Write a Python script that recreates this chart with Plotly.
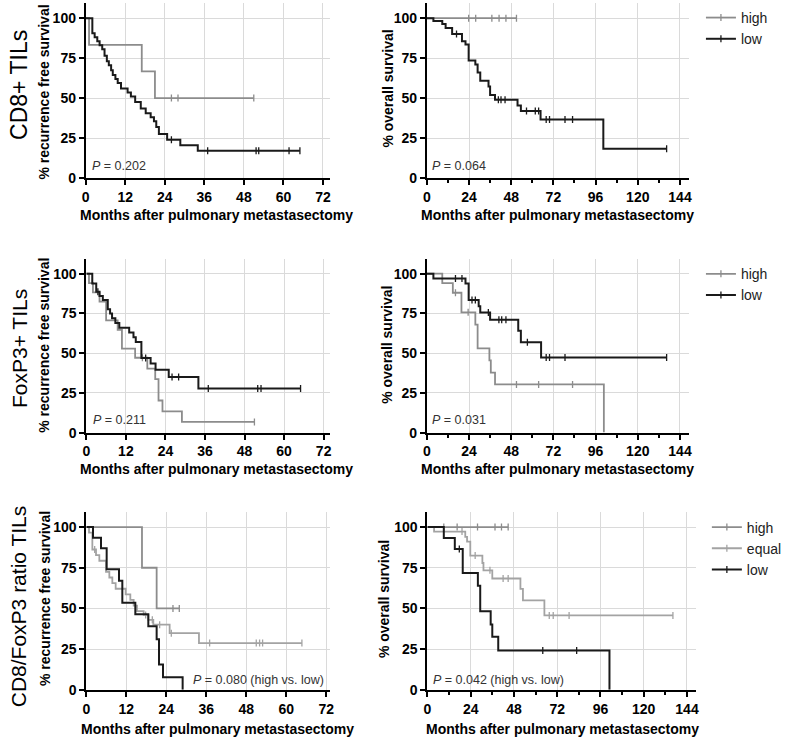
import plotly.graph_objects as go

W, H = 787, 745
FONT = "Liberation Sans, Arial, sans-serif"
BLACK = "#1a1a1a"
GRAY = "#8c8c8c"
LGRAY = "#a3a3a3"

# ---------------- data (months, % surviving) ----------------
# Panel 1: CD8+ TILs, recurrence free survival
p1_high_t = [1, 17, 21]
p1_high_s = [83.3, 66.7, 50.0]
p1_high_c = [26, 28, 51]
p1_low_t = [2, 2.7, 3.5, 4.2, 5, 5.7, 6.4, 7, 7.7, 8.2, 9, 9.7, 10.7, 12.7, 13.7, 15,
            16.7, 18.2, 19.7, 20.7, 21.4, 22.2, 24.7, 28.7, 34]
p1_low_s = [90.5, 88, 85.5, 83, 80.5, 76.5, 73, 70.5, 67.5, 64.5, 62, 59.5, 56, 53.5, 51, 47.5,
            43.5, 40.5, 38, 35.5, 32, 27.5, 24, 20.5, 17.1]
p1_low_c = [26, 37, 51.7, 52.5, 61.7, 65]

# Panel 2: CD8+ TILs, overall survival
p2_high_t = []
p2_high_s = []
p2_high_c = [23.8, 27.8, 37, 41.1, 45, 51]
p2_low_t = [3.75, 8.8, 10.7, 14.4, 20, 22, 23.8, 27.6, 28.9, 30.4, 35.1, 36, 38.8, 51.6, 53.5, 64.7, 100.4]
p2_low_s = [98.2, 96.4, 93.8, 90.1, 85.6, 83.5, 73.5, 71, 66, 60.8, 57.3, 52, 49, 45.4, 41.9, 36.7, 18.3]
p2_low_c = [16.9, 40.7, 42.2, 44.5, 56.7, 61.7, 63.6, 67.9, 69.8, 78.6, 82.9, 136.4]

# Panel 3: FoxP3+ TILs, recurrence free survival
p3_high_t = [0.8, 2, 4, 6, 9.5, 10.8, 14.8, 18.5, 20.9, 21.9, 23.1, 29]
p3_high_s = [94.1, 88.2, 82.4, 70.6, 64.7, 52.9, 47.1, 40.3, 33.6, 20.2, 13.4, 6.7]
p3_high_c = [17, 51]
p3_low_t = [1.8, 3, 4, 5, 6.5, 7.2, 7.8, 8.8, 10, 13, 14.3, 15, 16.7, 19.5, 21, 25, 34]
p3_low_s = [93.8, 88.6, 86, 83.5, 77.6, 75, 72, 69, 66, 63, 60, 57, 47, 43.5, 39.5, 35, 27.8]
p3_low_c = [3.5, 18, 26, 28, 37, 52, 53, 65]

# Panel 4: FoxP3+ TILs, overall survival
p4_high_t = [8.8, 14.8, 19.7, 27.6, 28.9, 35.6, 36.4, 38.8, 100.7]
p4_high_s = [94, 88, 75.7, 68, 53, 45.4, 37.8, 30.3, 0]
p4_high_c = [16.3, 23.5, 51, 63.6, 82.9]
p4_low_t = [3.75, 22, 23.8, 29.5, 30.4, 36, 52, 53.5, 65]
p4_low_s = [96.9, 93.8, 83.4, 79.5, 75.5, 71, 64.1, 56.8, 47.3]
p4_low_c = [16.3, 20, 25.7, 27.6, 35, 41, 42.6, 45, 57.2, 67.9, 69.8, 78.6, 136.4]

# Panel 5: CD8/FoxP3 ratio TILs, recurrence free survival
p5_high_t = [16.7, 21.1]
p5_high_s = [75, 50]
p5_high_c = [26, 27.9]
p5_equal_t = [0.8, 1.8, 2.9, 3.9, 5.9, 6.9, 7.8, 8.8, 11.8, 13.2, 14.2, 15.2, 17.2, 18.6, 20.1, 25, 33.8]
p5_equal_s = [96.6, 86.2, 82.8, 79.3, 72.4, 69, 65.5, 62.1, 58.6, 55.2, 51.7, 48.3, 46, 43, 40, 34.8, 28.7]
p5_equal_c = [2.5, 17.8, 19.8, 22, 25.5, 37, 51, 52, 52.9, 64.7]
p5_low_t = [2, 4.4, 6.1, 9.8, 10.8, 14.7, 18.6, 21.1, 21.8, 23, 28.9]
p5_low_s = [93.5, 87, 74, 67, 53.5, 46.5, 39, 31, 15.5, 7.7, 0]
p5_low_c = []

# Panel 6: CD8/FoxP3 ratio TILs, overall survival
p6_high_t = []
p6_high_s = []
p6_high_c = [9.1, 16.5, 27.8, 37.5, 41.1, 44.8]
p6_equal_t = [3.7, 21, 22, 23.8, 30.5, 31.1, 36, 51.6, 53, 64.9]
p6_equal_s = [97.2, 94, 91, 82.5, 77.9, 73.4, 68.4, 62, 54.9, 45.7]
p6_equal_c = [19.2, 26.5, 34.7, 42, 44.8, 67.6, 69.8, 78.6, 136.2]
p6_low_t = [9.1, 15.2, 19.6, 28, 29.3, 35.1, 36, 39.3, 101]
p6_low_s = [93.2, 86.5, 71.8, 64, 48.3, 40.2, 32.6, 24.1, 0]
p6_low_c = [17.7, 64, 82.8]

row_labels = ["CD8+ TILs", "FoxP3+ TILs", "CD8/FoxP3 ratio TILs"]
p_values = ["0.202", "0.064", "0.211", "0.031", "0.080 (high vs. low)", "0.042 (high vs. low)"]
x_ticks_rfs = [0, 12, 24, 36, 48, 60, 72]
x_ticks_os = [0, 24, 48, 72, 96, 120, 144]
y_ticks = [0, 25, 50, 75, 100]

# ---------------- helpers ----------------
def surv_at(times, surv, t):
    v = 100.0
    for ti, si in zip(times, surv):
        if ti <= t:
            v = si
    return v


def step_xy(times, surv, cens):
    xs = [0] + list(times)
    ys = [100] + list(surv)
    end = max([0] + list(times) + list(cens))
    if end > xs[-1]:
        xs.append(end)
        ys.append(ys[-1])
    return xs, ys


fig = go.Figure()
CENS_SIZE = 5

def add_curve(n, times, surv, cens, color, width):
    xa = "x" if n == 1 else f"x{n}"
    ya = "y" if n == 1 else f"y{n}"
    xs, ys = step_xy(times, surv, cens)
    fig.add_trace(go.Scatter(x=xs, y=ys, mode="lines", line=dict(color=color, width=width, shape="hv"),
                             xaxis=xa, yaxis=ya, showlegend=False, hoverinfo="skip"))
    if cens:
        fig.add_trace(go.Scatter(x=cens, y=[surv_at(times, surv, c) for c in cens], mode="markers",
                                 marker=dict(symbol="line-ns", size=CENS_SIZE, line=dict(color=color, width=1.3)),
                                 xaxis=xa, yaxis=ya, showlegend=False, hoverinfo="skip"))

add_curve(1, p1_high_t, p1_high_s, p1_high_c, GRAY, 1.8)
add_curve(1, p1_low_t, p1_low_s, p1_low_c, BLACK, 2)
add_curve(2, p2_high_t, p2_high_s, p2_high_c, GRAY, 1.8)
add_curve(2, p2_low_t, p2_low_s, p2_low_c, BLACK, 2)
add_curve(3, p3_high_t, p3_high_s, p3_high_c, GRAY, 1.8)
add_curve(3, p3_low_t, p3_low_s, p3_low_c, BLACK, 2)
add_curve(4, p4_high_t, p4_high_s, p4_high_c, GRAY, 1.8)
add_curve(4, p4_low_t, p4_low_s, p4_low_c, BLACK, 2)
add_curve(5, p5_high_t, p5_high_s, p5_high_c, GRAY, 1.8)
add_curve(5, p5_equal_t, p5_equal_s, p5_equal_c, LGRAY, 1.8)
add_curve(5, p5_low_t, p5_low_s, p5_low_c, BLACK, 2)
add_curve(6, p6_high_t, p6_high_s, p6_high_c, GRAY, 1.8)
add_curve(6, p6_equal_t, p6_equal_s, p6_equal_c, LGRAY, 1.8)
add_curve(6, p6_low_t, p6_low_s, p6_low_c, BLACK, 2)

# legend entries
def legend_entry(name, color, width, legend):
    fig.add_trace(go.Scatter(x=[None], y=[None], mode="lines+markers", name=name,
                             line=dict(color=color, width=width),
                             marker=dict(symbol="line-ns", size=CENS_SIZE, line=dict(color=color, width=1.3)),
                             legend=legend))

legend_entry("high", GRAY, 1.8, "legend")
legend_entry("low", BLACK, 2, "legend")
legend_entry("high", GRAY, 1.8, "legend2")
legend_entry("low", BLACK, 2, "legend2")
legend_entry("high", GRAY, 1.8, "legend3")
legend_entry("equal", LGRAY, 1.8, "legend3")
legend_entry("low", BLACK, 2, "legend3")

# ---------------- layout ----------------
def px_x(p):
    return p / W

def px_y(p):
    return 1 - p / H

panels = {
    1: dict(x=(82.7, 330), y=(3, 180), xr=74.2, yr=109.5, os=False),
    2: dict(x=(427.7, 692.7), y=(3, 180), xr=149, yr=109.5, os=True),
    3: dict(x=(83.3, 330), y=(261.7, 437.3), xr=74.0, yr=109.3, os=False),
    4: dict(x=(427.7, 692.7), y=(261.7, 437.3), xr=149, yr=109.3, os=True),
    5: dict(x=(83.3, 330), y=(517.3, 697.3), xr=73.2, yr=109.4, os=False),
    6: dict(x=(428.3, 700), y=(517.3, 697.3), xr=149, yr=109.4, os=True),
}

tickfont = dict(family=FONT, size=14, color="black", weight="bold")
layout = dict(width=W, height=H, margin=dict(l=0, r=0, t=0, b=0),
              paper_bgcolor="white", plot_bgcolor="white", font=dict(family=FONT))

for n, p in panels.items():
    xk = "xaxis" if n == 1 else f"xaxis{n}"
    yk = "yaxis" if n == 1 else f"yaxis{n}"
    xa = "x" if n == 1 else f"x{n}"
    ya = "y" if n == 1 else f"y{n}"
    xaxis = dict(domain=[px_x(p["x"][0]), px_x(p["x"][1])], range=[0, p["xr"]], anchor=ya,
                 tickvals=x_ticks_os if p["os"] else x_ticks_rfs,
                 showline=True, linecolor="black", linewidth=2, ticks="outside", ticklen=5,
                 tickwidth=2, tickcolor="black", showgrid=True, gridcolor="#dadada", gridwidth=1,
                 zeroline=False, tickfont=tickfont, fixedrange=True)
    if p["os"]:
        xaxis["minor"] = dict(tickvals=[12, 36, 60, 84, 108, 132], ticks="outside", ticklen=3,
                              tickwidth=1.5, tickcolor="black", showgrid=False)
    yaxis = dict(domain=[px_y(p["y"][1]), px_y(p["y"][0])], range=[0, p["yr"]], anchor=xa,
                 tickvals=y_ticks, showline=True, linecolor="black", linewidth=2, ticks="outside",
                 ticklen=5, tickwidth=2, tickcolor="black", showgrid=True, gridcolor="#dadada",
                 gridwidth=1, zeroline=False, tickfont=tickfont, fixedrange=True)
    layout[xk] = xaxis
    layout[yk] = yaxis

leg_common = dict(xanchor="left", yanchor="top", bgcolor="rgba(0,0,0,0)", borderwidth=0,
                  font=dict(family=FONT, size=14, color="#222"), tracegroupgap=0)
layout["legend"] = dict(x=px_x(705), y=px_y(2), **leg_common)
layout["legend2"] = dict(x=px_x(705), y=px_y(261), **leg_common)
layout["legend3"] = dict(x=px_x(711), y=px_y(517), **leg_common)

fig.update_layout(**layout)

ann = []
def add_text(text, x, y, size, bold=False, angle=0, xanchor="center", color="black"):
    ann.append(dict(text=text, x=px_x(x), y=px_y(y), xref="paper", yref="paper", showarrow=False,
                    xanchor=xanchor, yanchor="middle", textangle=angle,
                    font=dict(family=FONT, size=size, color=color, weight="bold" if bold else "normal")))

# row labels
add_text(row_labels[0], 15, 86, 23, angle=-90)
add_text(row_labels[1], 15, 352, 21, angle=-90)
add_text(row_labels[2], 15, 613, 21, angle=-90)

# y titles
add_text("% recurrence free survival", 40, 93, 14, bold=True, angle=-90)
add_text("% overall survival", 388, 90, 14, bold=True, angle=-90)
add_text("% recurrence free survival", 41, 349, 14, bold=True, angle=-90)
add_text("% overall survival", 388, 349, 14, bold=True, angle=-90)
add_text("% recurrence free survival", 41, 605, 14, bold=True, angle=-90)
add_text("% overall survival", 385, 606, 14, bold=True, angle=-90)

# x titles
xt = "Months after pulmonary metastasectomy"
add_text(xt, 215, 217, 14, bold=True)
add_text(xt, 560, 217, 14, bold=True)
add_text(xt, 215, 474, 14, bold=True)
add_text(xt, 560, 474, 14, bold=True)
add_text(xt, 216, 737, 14, bold=True)
add_text(xt, 565, 737, 14, bold=True)

# p values
pv_pos = [(87, 168), (431, 168), (88, 425), (431, 425), (189, 687), (432, 687)]
for pv, (x, y) in zip(p_values, pv_pos):
    add_text("<i>P</i> = " + pv, x, y, 12.5, xanchor="left", color="#333")

fig.update_layout(annotations=ann)
fig.write_html("out.html", config={"displayModeBar": False},
               post_script="document.body.style.margin='0';")
